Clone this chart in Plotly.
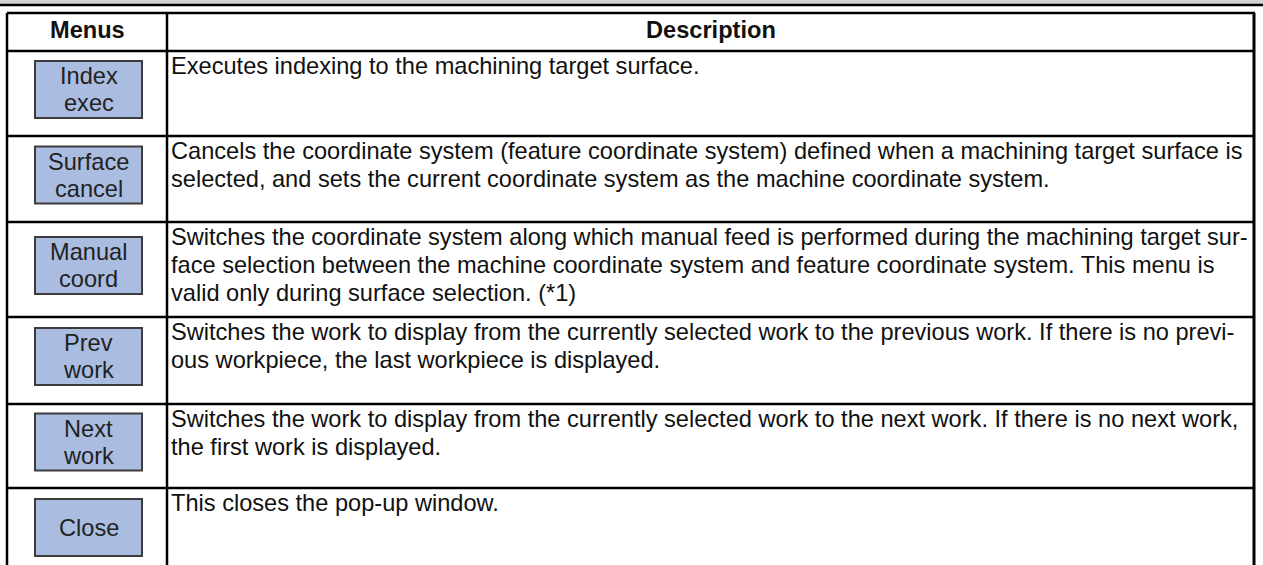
import plotly.graph_objects as go

# ---- data ----
headers = ["Menus", "Description"]
menus = [
    ["Index", "exec"],
    ["Surface", "cancel"],
    ["Manual", "coord"],
    ["Prev", "work"],
    ["Next", "work"],
    ["Close"],
]
descriptions = [
    ["Executes indexing to the machining target surface."],
    ["Cancels the coordinate system (feature coordinate system) defined when a machining target surface is",
     "selected, and sets the current coordinate system as the machine coordinate system."],
    ["Switches the coordinate system along which manual feed is performed during the machining target sur-",
     "face selection between the machine coordinate system and feature coordinate system. This menu is",
     "valid only during surface selection. (*1)"],
    ["Switches the work to display from the currently selected work to the previous work. If there is no previ-",
     "ous workpiece, the last workpiece is displayed."],
    ["Switches the work to display from the currently selected work to the next work. If there is no next work,",
     "the first work is displayed."],
    ["This closes the pop-up window."],
]

# ---- layout constants (pixels) ----
W, H = 1263, 565
LEFT, MID, RIGHT = 7, 167, 1254
TOP, HEAD_BOTTOM = 13, 51
row_edges = [51, 136, 222, 317, 404, 488, 565]
BTN_X0, BTN_X1, BTN_H = 35, 142, 57
FS = 23.6
LINE = 28
FONT = "Liberation Sans, Arial, sans-serif"
BTN_FILL = "#aabde1"

shapes = []
annotations = []

def line(x0, y0, x1, y1, w=2, c="black"):
    shapes.append(dict(type="line", x0=x0, y0=y0, x1=x1, y1=y1, xref="x", yref="y",
                       line=dict(color=c, width=w), layer="above"))

# top band
shapes.append(dict(type="rect", x0=0, y0=0, x1=W, y1=4, xref="x", yref="y",
                   fillcolor="#d2d2d2", line=dict(width=0), layer="below"))
line(0, 5, W, 5, w=2.5)

# table frame
line(LEFT, TOP, RIGHT + 1, TOP, w=2.5)
line(LEFT, TOP, LEFT, H, w=2.5)
line(RIGHT, TOP, RIGHT, H, w=3)
line(MID, TOP, MID, H, w=2.5)
for y in row_edges[:-1]:
    line(LEFT, y, RIGHT, y, w=2.5)

# header text
for hx, htxt in (((LEFT + MID) / 2, headers[0]), ((MID + RIGHT) / 2, headers[1])):
    annotations.append(dict(x=hx, y=(TOP + HEAD_BOTTOM) / 2 - 2, text="<b>%s</b>" % htxt,
                            showarrow=False, xanchor="center", yanchor="middle",
                            font=dict(family=FONT, size=FS, color="#111")))

for i, (menu, desc) in enumerate(zip(menus, descriptions)):
    top, bot = row_edges[i], row_edges[i + 1]
    cy = (top + bot) / 2 - 4
    if i == len(menus) - 1:
        cy = (top + bot) / 2 + 1
    shapes.append(dict(type="rect", x0=BTN_X0, x1=BTN_X1, y0=cy - BTN_H / 2, y1=cy + BTN_H / 2,
                       xref="x", yref="y", fillcolor=BTN_FILL,
                       line=dict(color="#3c3c3c", width=2), layer="below"))
    n = len(menu)
    for k, t in enumerate(menu):
        yy = cy + (k - (n - 1) / 2) * 27
        annotations.append(dict(x=(BTN_X0 + BTN_X1) / 2, y=yy, text=t, showarrow=False,
                                xanchor="center", yanchor="middle",
                                font=dict(family=FONT, size=FS, color="#222")))
    for k, t in enumerate(desc):
        annotations.append(dict(x=169, y=top + 15 + k * LINE, text=t, showarrow=False,
                                xanchor="left", yanchor="middle",
                                font=dict(family=FONT, size=FS, color="#111")))

fig = go.Figure()
fig.update_layout(
    width=W, height=H,
    margin=dict(l=0, r=0, t=0, b=0),
    paper_bgcolor="white", plot_bgcolor="white",
    xaxis=dict(range=[0, W], visible=False, fixedrange=True),
    yaxis=dict(range=[H, 0], visible=False, fixedrange=True),
    shapes=shapes, annotations=annotations,
    showlegend=False,
)
fig.write_html("out.html", config={"displayModeBar": False},
               post_script="document.body.style.margin='0';document.body.style.overflow='hidden';")
